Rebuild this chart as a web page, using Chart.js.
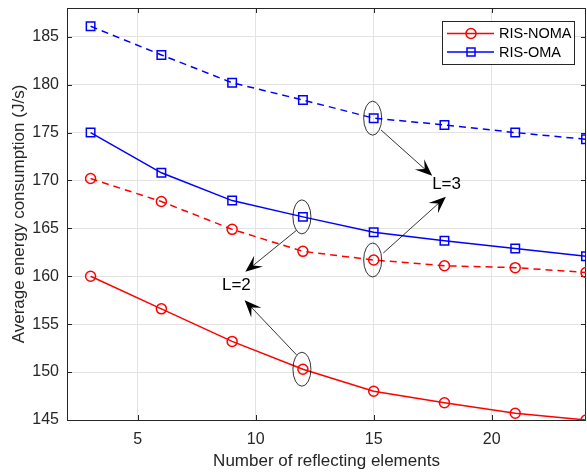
<!DOCTYPE html>
<html>
<head>
<meta charset="utf-8">
<script src="https://cdn.jsdelivr.net/npm/chart.js@4.4.1/dist/chart.umd.min.js"></script>
<style>
 html,body{margin:0;padding:0;background:#fff;}
 #wrap{width:587px;height:473px;}
</style>
</head>
<body>
<div id="wrap"><canvas id="c" width="587" height="473"></canvas></div>
<script>
// number of reflecting elements
const elements = [3, 6, 9, 12, 15, 18, 21, 24];
const xTicks = [5, 10, 15, 20];
const yTicks = [145, 150, 155, 160, 165, 170, 175, 180, 185];

// average energy consumption (J/s)
const nomaL2 = [160.0, 156.6, 153.2, 150.3, 148.0, 146.8, 145.7, 145.0];
const nomaL3 = [170.2, 167.8, 164.9, 162.6, 161.7, 161.1, 160.9, 160.4];
const omaL2  = [175.0, 170.8, 167.9, 166.2, 164.6, 163.7, 162.9, 162.1];
const omaL3  = [186.1, 183.1, 180.2, 178.4, 176.5, 175.8, 175.0, 174.3];

const FONT = "'Liberation Sans', Arial, sans-serif";
const AXIS = "#262626";

function series(label, vals, color, dashed, shape){
 return {
   label: label,
   data: vals.map((v,i)=>({x:elements[i], y:v})),
   borderColor: color,
   backgroundColor: "rgba(0,0,0,0)",
   borderWidth: 1.5,
   borderDash: dashed ? [7,5] : [],
   pointStyle: shape,
   pointRadius: shape === "rect" ? 6 : 5,
   pointBorderWidth: 1.5,
   pointBorderColor: color,
   pointBackgroundColor: "rgba(0,0,0,0)",
   tension: 0
 };
}

/* annotations: ellipses, arrows, labels (data coords) */
const ellipses = [[12,166.2],[12,150.3],[15,176.5],[15,161.7]];
const arrows = [
 [15.31,175.27, 17.48,170.5],
 [15.41,162.43, 18.06,168.3],
 [11.73,164.8, 9.56,160.47],
 [11.73,151.8, 9.53,157.5]
];
const notes = [["L=2", 9.18, 159.1], ["L=3", 18.09, 169.6]];

const frame = {
 id:"frame",
 beforeDatasetsDraw(chart){
   const {ctx, chartArea:a, scales:{x,y}} = chart;
   ctx.save();
   ctx.strokeStyle = AXIS;
   ctx.lineWidth = 1;
   ctx.beginPath();
   xTicks.forEach(t=>{
     const px = Math.round(x.getPixelForValue(t))+0.5;
     ctx.moveTo(px,a.bottom); ctx.lineTo(px,a.bottom-5);
     ctx.moveTo(px,a.top); ctx.lineTo(px,a.top+5);
   });
   yTicks.forEach(t=>{
     const py = Math.round(y.getPixelForValue(t))+0.5;
     ctx.moveTo(a.left,py); ctx.lineTo(a.left+5,py);
     ctx.moveTo(a.right,py); ctx.lineTo(a.right-5,py);
   });
   ctx.stroke();
   ctx.strokeRect(a.left+0.5, a.top+0.5, a.right-a.left-1, a.bottom-a.top);
   ctx.restore();
 },
 afterDatasetsDraw(chart){
   const {ctx, scales:{x,y}} = chart;
   ctx.save();
   ctx.strokeStyle = "#000";
   ctx.fillStyle = "#000";
   ctx.lineWidth = 0.8;
   ellipses.forEach(([ex,ey])=>{
     ctx.beginPath();
     ctx.ellipse(x.getPixelForValue(ex)-1, y.getPixelForValue(ey), 9, 17, 0, 0, Math.PI*2);
     ctx.stroke();
   });
   arrows.forEach(([x0,y0,x1,y1])=>{
     const ax = x.getPixelForValue(x0), ay = y.getPixelForValue(y0);
     const bx = x.getPixelForValue(x1), by = y.getPixelForValue(y1);
     const ang = Math.atan2(by-ay, bx-ax);
     const L = 15, W = 7;
     const cx = bx - Math.cos(ang)*L, cy = by - Math.sin(ang)*L;
     ctx.beginPath();
     ctx.moveTo(ax,ay);
     ctx.lineTo(bx - Math.cos(ang)*8, by - Math.sin(ang)*8);
     ctx.stroke();
     ctx.beginPath();
     ctx.moveTo(bx,by);
     ctx.lineTo(cx - Math.sin(ang)*W - Math.cos(ang)*2, cy + Math.cos(ang)*W - Math.sin(ang)*2);
     ctx.lineTo(bx - Math.cos(ang)*10, by - Math.sin(ang)*10);
     ctx.lineTo(cx + Math.sin(ang)*W - Math.cos(ang)*2, cy - Math.cos(ang)*W - Math.sin(ang)*2);
     ctx.closePath();
     ctx.fill();
   });
   ctx.font = "17px " + FONT;
   ctx.textAlign = "center";
   ctx.textBaseline = "middle";
   notes.forEach(([t,nx,ny])=>{
     ctx.fillText(t, x.getPixelForValue(nx), y.getPixelForValue(ny));
   });

   // legend
   const lx = 442.5, ly = 21.5, lw = 132, lh = 43;
   ctx.fillStyle = "#fff";
   ctx.fillRect(lx,ly,lw,lh);
   ctx.strokeStyle = AXIS;
   ctx.lineWidth = 1;
   ctx.strokeRect(lx,ly,lw,lh);
   [["RIS-NOMA","#ff0000","circle",33.5],["RIS-OMA","#0000ff","rect",52]].forEach(([t,c,s,yy])=>{
     ctx.strokeStyle = c;
     ctx.lineWidth = 1.5;
     ctx.beginPath(); ctx.moveTo(447,yy); ctx.lineTo(494,yy); ctx.stroke();
     ctx.beginPath();
     if(s==="circle") ctx.arc(471,yy,5,0,Math.PI*2);
     else ctx.rect(467,yy-4,8,8);
     ctx.stroke();
     ctx.fillStyle = "#000";
     ctx.font = "14.5px " + FONT;
     ctx.textAlign = "left";
     ctx.fillText(t, 499, yy+0.5);
   });
   ctx.restore();
 }
};

new Chart(document.getElementById("c"),{
 type:"line",
 data:{
   datasets:[
     series("RIS-NOMA", nomaL2, "#ff0000", false, "circle"),
     series("RIS-NOMA L=3", nomaL3, "#ff0000", true, "circle"),
     series("RIS-OMA", omaL2, "#0000ff", false, "rect"),
     series("RIS-OMA L=3", omaL3, "#0000ff", true, "rect")
   ]
 },
 options:{
   responsive:false,
   animation:false,
   layout:{autoPadding:false, padding:{top:8,right:1,left:0,bottom:0}},
   plugins:{legend:{display:false}, tooltip:{enabled:false}},
   scales:{
     x:{
       type:"linear", min:2, max:24,
       afterBuildTicks:s=>{ s.ticks = xTicks.map(v=>({value:v})); },
       afterFit:s=>{ s.height = 53; s.paddingLeft = 0; s.paddingRight = 0; },
       grid:{color:"#e3e3e3", drawTicks:false},
       border:{display:false},
       ticks:{color:AXIS, font:{family:FONT,size:16}, padding:10, maxRotation:0},
       title:{display:true, text:"Number of reflecting elements", color:AXIS,
              font:{family:FONT,size:17}, padding:{top:8,bottom:1}}
     },
     y:{
       type:"linear", min:145, max:188,
       afterBuildTicks:s=>{ s.ticks = yTicks.map(v=>({value:v})); },
       afterFit:s=>{ s.width = 67; s.paddingTop = 0; s.paddingBottom = 0; },
       grid:{color:"#e3e3e3", drawTicks:false},
       border:{display:false},
       ticks:{color:AXIS, font:{family:FONT,size:16}, padding:8},
       title:{display:true, text:"Average energy consumption (J/s)", color:AXIS,
              font:{family:FONT,size:17}, padding:{bottom:0,top:9}}
     }
   }
 },
 plugins:[frame]
});
</script>
</body>
</html>
